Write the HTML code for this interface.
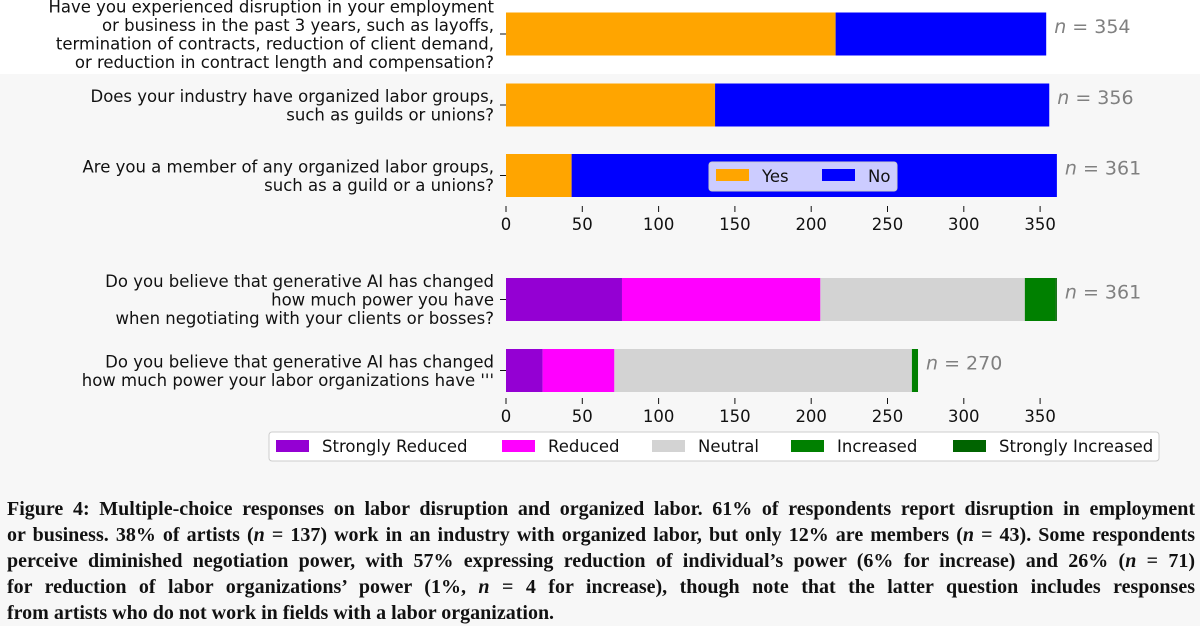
<!DOCTYPE html>
<html><head><meta charset="utf-8"><style>
body{margin:0;width:1200px;height:621px;background:#f7f7f7;overflow:hidden;position:relative;font-family:"DejaVu Sans","Liberation Sans",sans-serif}
#cap{position:absolute;left:7px;top:496px;width:1188px;font:bold 20px/26px "Liberation Serif",serif;color:#111}
#cap div{text-align:justify;text-align-last:justify;white-space:nowrap}
#cap div.last{text-align-last:left}
</style></head><body>
<div style="position:absolute;left:0;top:0;width:1200px;height:74px;background:#fff"></div>
<svg id="c" width="1200" height="470" style="position:absolute;left:0;top:0" font-family="DejaVu Sans, sans-serif"></svg>
<div id="cap">
<div>Figure 4: Multiple-choice responses on labor disruption and organized labor. 61% of respondents report disruption in employment</div>
<div>or business. 38% of artists (<i>n</i> = 137) work in an industry with organized labor, but only 12% are members (<i>n</i> = 43). Some respondents</div>
<div>perceive diminished negotiation power, with 57% expressing reduction of individual’s power (6% for increase) and 26% (<i>n</i> = 71)</div>
<div>for reduction of labor organizations’ power (1%, <i>n</i> = 4 for increase), though note that the latter question includes responses</div>
<div class="last">from artists who do not work in fields with a labor organization.</div>
</div>
<script>
const q1 = [["Have you experienced disruption in your employment","or business in the past 3 years, such as layoffs,","termination of contracts, reduction of client demand,","or reduction in contract length and compensation?"],["Does your industry have organized labor groups,","such as guilds or unions?"],["Are you a member of any organized labor groups,","such as a guild or a unions?"]];
const yesVals = [216, 137, 43];
const noVals = [138, 219, 318];
const q2 = [["Do you believe that generative AI has changed","how much power you have","when negotiating with your clients or bosses?"],["Do you believe that generative AI has changed","how much power your labor organizations have '''"]];
const cats2 = ["Strongly Reduced","Reduced","Neutral","Increased","Strongly Increased"];
const vals2 = [[76,130,134,20,1],[24,47,195,4,0]];
const ticks = [0,50,100,150,200,250,300,350];
const col1 = ["#ffa500","#0000ff"], col2 = ["#9400d3","#ff00ff","#d3d3d3","#008000","#006400"];
const svg = document.getElementById('c'), NS="http://www.w3.org/2000/svg";
const X = v => 506 + v*1.526;
function mk(t,a,txt){const e=document.createElementNS(NS,t);for(const k in a)e.setAttribute(k,a[k]);if(txt!=null)e.textContent=txt;svg.appendChild(e);return e;}
function label(lines,cy,name){const lh=18.5;const y0=cy-(lines.length-1)*lh/2+6;
 const t=mk('text',{x:494,'text-anchor':'end','font-size':16.5,fill:'#111'});
 
 
 lines.forEach((l,i)=>{const s=document.createElementNS(NS,'tspan');s.setAttribute('x',494);s.setAttribute('y',y0+i*lh);s.textContent=l;t.appendChild(s);});
 mk('line',{x1:500,x2:506,y1:cy,y2:cy,stroke:'#111'});}
function axis(y,name){ticks.forEach(v=>{mk('line',{x1:X(v),x2:X(v),y1:y,y2:y+6,stroke:'#111'});
 const t=mk('text',{x:X(v),y:y+24,'text-anchor':'middle','font-size':16.5,fill:'#111'},v);
 
 });}
const cy1=[34,105,175.5];
q1.forEach((q,i)=>{label(q,cy1[i],'question-'+(i+1)+'-label');
 let r=mk('rect',{x:X(0),y:cy1[i]-21.5,width:X(yesVals[i])-X(0),height:43,fill:col1[0]});
 
 
 r=mk('rect',{x:X(yesVals[i]),y:cy1[i]-21.5,width:X(yesVals[i]+noVals[i])-X(yesVals[i]),height:43,fill:col1[1]});
 
 
 const n=yesVals[i]+noVals[i];
 const t=mk('text',{x:X(n)+8,y:cy1[i]-1,'font-size':19,fill:'#808080'});
 t.innerHTML='<tspan font-style="italic">n</tspan> = '+n;
 
 });
axis(206,'top-axis');
let lg=mk('rect',{x:709,y:162,width:188,height:29,rx:3,fill:'#fff','fill-opacity':0.8,stroke:'#ccc'});


[["Yes",716],["No",822]].forEach((e,i)=>{mk('rect',{x:e[1],y:169,width:33,height:12,fill:col1[i]});
 const t=mk('text',{x:e[1]+46,y:182,'font-size':16.5,fill:'#111'},e[0]);
 
 });
const cy2=[299.5,370.5];
q2.forEach((q,i)=>{label(q,cy2[i],'power-question-'+(i+1)+'-label');
 let acc=0;vals2[i].forEach((v,j)=>{if(v>0){const r=mk('rect',{x:X(acc),y:cy2[i]-21.5,width:X(acc+v)-X(acc),height:43,fill:col2[j]});
  
  }acc+=v;});
 const t=mk('text',{x:X(acc)+8,y:cy2[i]-1,'font-size':19,fill:'#808080'});
 t.innerHTML='<tspan font-style="italic">n</tspan> = '+acc;
 
 });
axis(398,'bottom-axis');
lg=mk('rect',{x:269,y:432,width:890,height:29,rx:3,fill:'#fff',stroke:'#ccc'});


const lx=[276,502,652,791,953];
cats2.forEach((c,j)=>{mk('rect',{x:lx[j],y:440,width:33,height:12,fill:col2[j]});
 const t=mk('text',{x:lx[j]+46,y:452,'font-size':16.5,fill:'#111'},c);
 
 });
</script>
</body></html>
